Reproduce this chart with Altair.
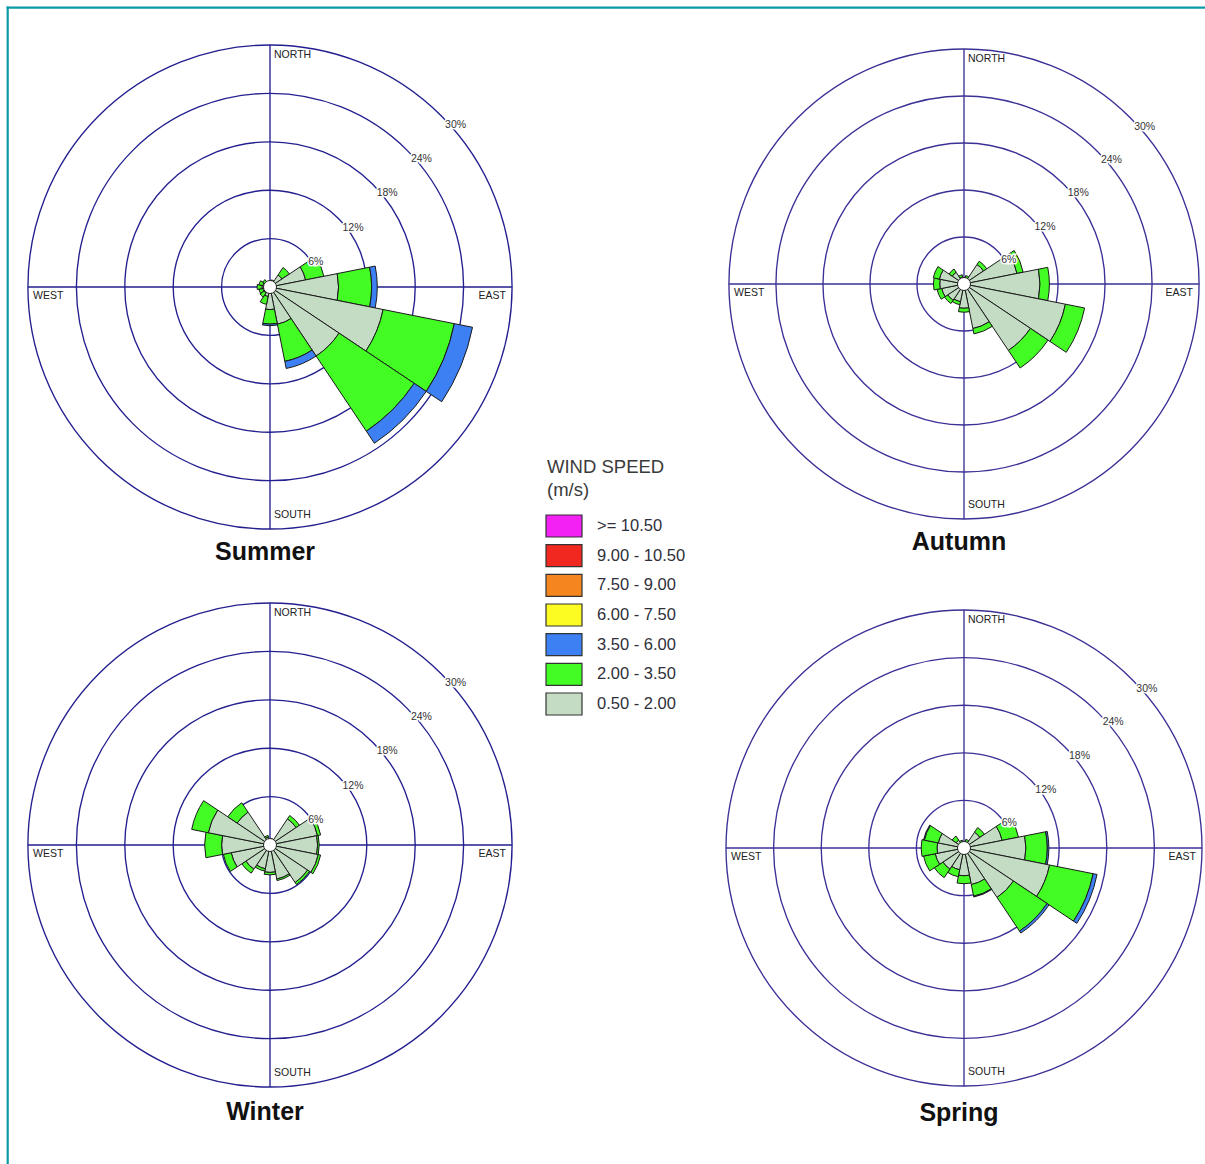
import math

import altair as alt
import pandas as pd

# ---------------------------------------------------------------------------
# Wind-rose data: frequency (%) of each speed class per compass direction
# ---------------------------------------------------------------------------
DIRECTIONS = ["N", "NNE", "NE", "ENE", "E", "ESE", "SE", "SSE",
              "S", "SSW", "SW", "WSW", "W", "WNW", "NW", "NNW"]

SPEED_BINS = [">= 10.50", "9.00 - 10.50", "7.50 - 9.00", "6.00 - 7.50",
              "3.50 - 6.00", "2.00 - 3.50", "0.50 - 2.00"]
SPEED_COLORS = ["#f321f3", "#f0281f", "#f5861f", "#fcfc22",
                "#3c80f4", "#42fc24", "#c4dcc4"]

SUMMER_050_200 = [0.4, 0.6, 1.8, 4.5, 8.5, 14.3, 10.3, 4.7, 2.8, 1.2, 0.9, 0.9, 1.0, 0.9, 0.7, 0.5]
SUMMER_200_350 = [0.3, 0.3, 1.1, 2.3, 4.1, 9.0, 11.2, 4.7, 1.8, 1.0, 0.6, 0.5, 0.6, 0.5, 0.4, 0.2]
SUMMER_350_600 = [0.0, 0.0, 0.0, 0.0, 0.7, 2.3, 1.8, 0.9, 0.2, 0.0, 0.0, 0.0, 0.0, 0.0, 0.0, 0.0]

AUTUMN_050_200 = [0.6, 0.8, 3.0, 6.9, 9.7, 13.2, 10.2, 5.8, 3.1, 2.3, 2.5, 2.9, 3.1, 3.2, 1.8, 0.9]
AUTUMN_200_350 = [0.2, 0.3, 0.5, 0.8, 1.2, 2.5, 2.7, 0.7, 0.5, 0.4, 0.5, 0.6, 0.8, 0.8, 0.5, 0.3]
AUTUMN_350_600 = [0.0] * 16

WINTER_050_200 = [0.5, 0.7, 3.9, 6.0, 5.9, 6.1, 5.6, 4.3, 3.4, 3.0, 3.6, 4.9, 6.0, 7.8, 4.9, 1.0]
WINTER_200_350 = [0.1, 0.1, 0.5, 0.4, 0.2, 0.3, 0.3, 0.2, 0.3, 0.3, 0.6, 1.0, 2.1, 2.1, 1.4, 0.2]
WINTER_350_600 = [0.0] * 16

SPRING_050_200 = [0.5, 0.8, 2.4, 4.9, 7.8, 11.0, 7.5, 4.7, 3.5, 2.8, 3.2, 3.7, 3.4, 3.3, 1.2, 0.8]
SPRING_200_350 = [0.2, 0.3, 0.7, 2.1, 2.7, 5.6, 5.1, 1.5, 1.0, 0.9, 1.3, 1.5, 2.0, 1.8, 0.6, 0.2]
SPRING_350_600 = [0.0, 0.0, 0.0, 0.0, 0.2, 0.5, 0.3, 0.1, 0.0, 0.0, 0.0, 0.0, 0.0, 0.1, 0.0, 0.0]

RING_LEVELS = [6, 12, 18, 24, 30]

# ---------------------------------------------------------------------------
# Page geometry (centre, outer radius, title position, grid colour) per rose
# ---------------------------------------------------------------------------
PAGE_W, PAGE_H = 1205, 1164
PANELS = [
    dict(name="Summer", cx=270, cy=287, R=242, title_y=552, grid="#231f8f",
         data=(SUMMER_050_200, SUMMER_200_350, SUMMER_350_600)),
    dict(name="Autumn", cx=964, cy=284, R=235, title_y=542, grid="#3a3096",
         data=(AUTUMN_050_200, AUTUMN_200_350, AUTUMN_350_600)),
    dict(name="Winter", cx=270, cy=845, R=242, title_y=1112, grid="#231f8f",
         data=(WINTER_050_200, WINTER_200_350, WINTER_350_600)),
    dict(name="Spring", cx=964, cy=848, R=238, title_y=1113, grid="#3a3096",
         data=(SPRING_050_200, SPRING_200_350, SPRING_350_600)),
]

FONT = "Liberation Sans"
FRAME = "#0a9aa8"
SECTOR = 22.5
GRID_WIDTH = 1.35

color_scale = alt.Scale(domain=SPEED_BINS, range=SPEED_COLORS)
theta_scale = alt.Scale(domain=[0, 360], range=[0, 2 * math.pi])
one_row = pd.DataFrame({"k": [0]})


def bars_frame(classes):
    """Stack the speed classes outward from the centre for every direction."""
    labels = ["0.50 - 2.00", "2.00 - 3.50", "3.50 - 6.00"]
    rows = []
    for i, d in enumerate(DIRECTIONS):
        angle = i * SECTOR
        start = 0.0
        for label, values in zip(labels, classes):
            v = values[i]
            if v <= 0:
                continue
            rows.append(dict(direction=d, t0=angle - SECTOR / 2, t1=angle + SECTOR / 2,
                             r0=start, r1=start + v, speed=label, freq=v))
            start += v
    return pd.DataFrame(rows)


def text_at(x, y, label, **kw):
    return alt.Chart(one_row).mark_text(font=FONT, **kw).encode(
        x=alt.value(x), y=alt.value(y), text=alt.value(label))


def rose(p):
    cx, cy, R, grid = p["cx"], p["cy"], p["R"], p["grid"]
    radius_scale = alt.Scale(type="linear", domain=[0, 30], range=[0, R], zero=True)
    rings = pd.DataFrame({"pct": RING_LEVELS, "label": [f"{v}%" for v in RING_LEVELS]})
    pos = dict(x=alt.value(cx), y=alt.value(cy))

    ring_layer = alt.Chart(rings).mark_arc(filled=False, stroke=grid,
                                           strokeWidth=GRID_WIDTH).encode(
        theta=alt.value(0), theta2=alt.value(2 * math.pi),
        radius=alt.Radius("pct:Q", scale=radius_scale, stack=None), **pos)

    v_rule = alt.Chart(one_row).mark_rule(color=grid, strokeWidth=GRID_WIDTH).encode(
        x=alt.value(cx), y=alt.value(cy - R), y2=alt.value(cy + R))
    h_rule = alt.Chart(one_row).mark_rule(color=grid, strokeWidth=GRID_WIDTH).encode(
        y=alt.value(cy), x=alt.value(cx - R), x2=alt.value(cx + R))

    bars = alt.Chart(bars_frame(p["data"])).mark_arc(stroke="#1a1a1a", strokeWidth=1).encode(
        theta=alt.Theta("t0:Q", scale=theta_scale, stack=None),
        theta2=alt.Theta2("t1:Q"),
        radius=alt.Radius("r1:Q", scale=radius_scale, stack=None),
        radius2=alt.Radius2("r0:Q"),
        color=alt.Color("speed:N", scale=color_scale, legend=None),
        tooltip=["direction:N", "speed:N", "freq:Q"],
        **pos)

    hub = alt.Chart(one_row).mark_arc(fill="white", stroke="#222222", strokeWidth=1).encode(
        theta=alt.value(0), theta2=alt.value(2 * math.pi), radius=alt.value(6.5), **pos)

    lab = dict(fontSize=10.5, color="#222222")
    north = text_at(cx + 4, cy - R + 10, "NORTH", align="left", **lab)
    south = text_at(cx + 4, cy + R - 14, "SOUTH", align="left", **lab)
    west = text_at(cx - R + 5, cy + 9, "WEST", align="left", **lab)
    east = text_at(cx + R - 6, cy + 9, "EAST", align="right", **lab)

    pct_kw = dict(align="left", baseline="top", dx=4, dy=4, fontSize=10.5, font=FONT)
    pct_enc = dict(theta=alt.value(math.pi / 4),
                   radius=alt.Radius("pct:Q", scale=radius_scale, stack=None),
                   text="label:N", **pos)
    pct_halo = alt.Chart(rings).mark_text(stroke="white", strokeWidth=3, fill="white",
                                          **pct_kw).encode(**pct_enc)
    pct_text = alt.Chart(rings).mark_text(color="#333333", **pct_kw).encode(**pct_enc)

    title = text_at(cx - 5, p["title_y"], p["name"], align="center", fontSize=25,
                    fontWeight="bold", color="#111111")

    return alt.layer(ring_layer, v_rule, h_rule, bars, hub,
                     north, south, west, east, pct_halo, pct_text, title)


# ---------------------------------------------------------------------------
# Legend drawn from the speed classes
# ---------------------------------------------------------------------------
legend_df = pd.DataFrame({"speed": SPEED_BINS})
legend_y = alt.Y("speed:N", scale=alt.Scale(domain=SPEED_BINS, range=[526, 704], padding=0),
                 axis=None)
legend_boxes = alt.Chart(legend_df).mark_point(
    shape="M-1,-0.611L1,-0.611L1,0.611L-1,0.611Z", size=1296, filled=True, opacity=1,
    stroke="#333333", strokeWidth=1.2).encode(
    x=alt.value(564), y=legend_y,
    color=alt.Color("speed:N", scale=color_scale, legend=None))
legend_labels = alt.Chart(legend_df).mark_text(
    align="left", baseline="middle", font=FONT, fontSize=16.5, color="#2f2f3a").encode(
    x=alt.value(597), y=legend_y, text="speed:N")
legend_title1 = text_at(547, 467, "WIND SPEED", align="left", fontSize=18.5, color="#3a3a3a")
legend_title2 = text_at(547, 490, "(m/s)", align="left", fontSize=18.5, color="#3a3a3a")

# Page frame along the top and left edges
frame_v = alt.Chart(one_row).mark_rule(color=FRAME, strokeWidth=2.2).encode(
    x=alt.value(7.7), y=alt.value(6.6), y2=alt.value(PAGE_H))
frame_h = alt.Chart(one_row).mark_rule(color=FRAME, strokeWidth=2.2).encode(
    y=alt.value(7.7), x=alt.value(6.6), x2=alt.value(PAGE_W))

chart = alt.layer(
    frame_v, frame_h,
    *[rose(p) for p in PANELS],
    legend_boxes, legend_labels, legend_title1, legend_title2,
).resolve_scale(radius="independent").properties(
    width=PAGE_W, height=PAGE_H, padding=0, autosize=alt.AutoSizeParams(type="none"),
    background="white",
).configure_view(stroke=None)

chart.save("out.html", embed_options={"renderer": "svg", "actions": False})
